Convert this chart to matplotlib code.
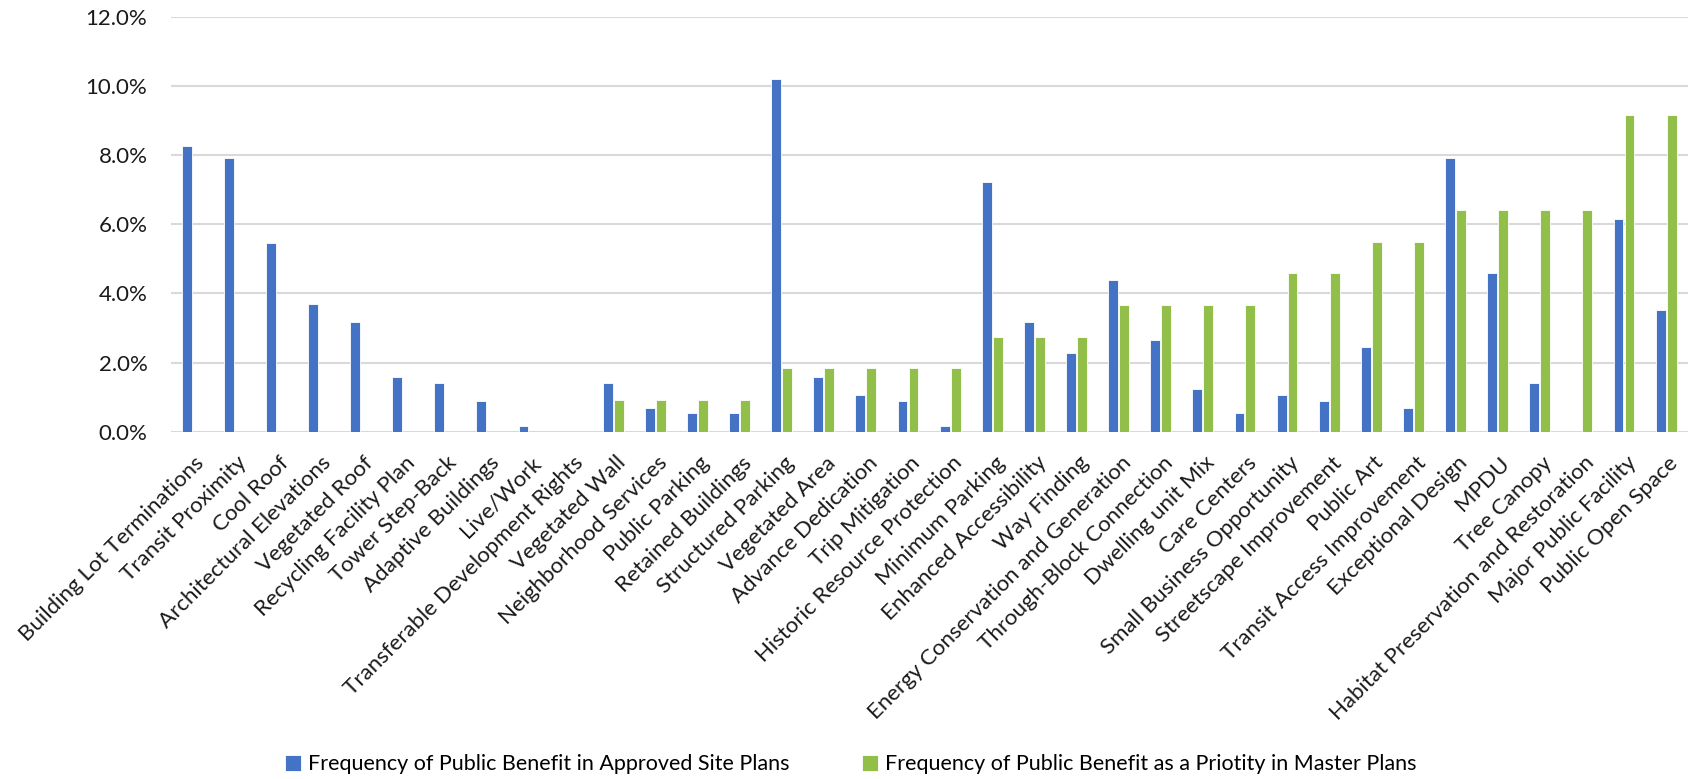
import matplotlib
matplotlib.use("Agg")
import matplotlib.pyplot as plt
import matplotlib.transforms as mtransforms
import numpy as np
from matplotlib.ticker import PercentFormatter

categories = ["Building Lot Terminations", "Transit Proximity", "Cool Roof",
              "Architectural Elevations", "Vegetated Roof", "Recycling Facility Plan",
              "Tower Step-Back", "Adaptive Buildings", "Live/Work",
              "Transferable Development Rights", "Vegetated Wall", "Neighborhood Services",
              "Public Parking", "Retained Buildings", "Structured Parking", "Vegetated Area",
              "Advance Dedication", "Trip Mitigation", "Historic Resource Protection",
              "Minimum Parking", "Enhanced Accessibility", "Way Finding",
              "Energy Conservation and Generation", "Through-Block Connection",
              "Dwelling unit Mix", "Care Centers", "Small Business Opportunity",
              "Streetscape Improvement", "Public Art", "Transit Access Improvement",
              "Exceptional Design", "MPDU", "Tree Canopy",
              "Habitat Preservation and Restoration", "Major Public Facility",
              "Public Open Space"]

site_plans = [8.28, 7.92, 5.46, 3.70, 3.17, 1.58, 1.41, 0.88, 0.18, 0.0,
              1.41, 0.70, 0.53, 0.53, 10.21, 1.58, 1.06, 0.88, 0.18, 7.22,
              3.17, 2.29, 4.40, 2.64, 1.23, 0.53, 1.06, 0.88, 2.46, 0.70,
              7.92, 4.58, 1.41, 0.0, 6.16, 3.52]

master_plans = [0.0, 0.0, 0.0, 0.0, 0.0, 0.0, 0.0, 0.0, 0.0, 0.0,
                0.92, 0.92, 0.92, 0.92, 1.83, 1.83, 1.83, 1.83, 1.83, 2.75,
                2.75, 2.75, 3.67, 3.67, 3.67, 3.67, 4.59, 4.59, 5.50, 5.50,
                6.42, 6.42, 6.42, 6.42, 9.17, 9.17]

series_names = ["Frequency of Public Benefit in Approved Site Plans",
                "Frequency of Public Benefit as a Priotity in Master Plans"]

plt.rcParams['font.family'] = ['Lato', 'DejaVu Sans']

fig = plt.figure(figsize=(16.88, 7.79), dpi=100)
ax = fig.add_axes([0.1013, 0.4458, 0.8987, 0.5324])

x = np.arange(len(categories))
w = 0.235
ax.bar(x - 0.13, site_plans, w, color="#4472C4", edgecolor="white", linewidth=0.6,
       label=series_names[0], zorder=3)
ax.bar(x + 0.13, master_plans, w, color="#92BF4A", edgecolor="white", linewidth=0.6,
       label=series_names[1], zorder=3)

ax.set_ylim(0, 12)
ax.set_yticks(np.arange(0, 12.1, 2))
ax.yaxis.set_major_formatter(PercentFormatter(decimals=1))
ax.set_xlim(-0.5, 35.52)
ax.set_xticks(x)
ax.set_xticklabels([])

# category labels drawn by hand: 45 deg, ending just right of the tick (Excel style)
shift = mtransforms.ScaledTranslation(0.02, -0.21, fig.dpi_scale_trans)
for i, name in enumerate(categories):
    ax.text(i, 0, name, rotation=45, ha="right", va="top", rotation_mode="anchor",
            fontsize=16, color="#1a1a1a",
            transform=ax.get_xaxis_transform() + shift)

ax.grid(axis="y", color="#d9d9d9", linewidth=1.5, zorder=0)
for s in ax.spines.values():
    s.set_visible(False)
ax.tick_params(axis="both", length=0, colors="#1a1a1a")
ax.tick_params(axis="y", pad=17, labelsize=16)

fig.legend(loc="center", bbox_to_anchor=(0.504, 0.019), ncol=2, frameon=False,
           fontsize=15.5, handlelength=0.75, handleheight=0.75, handletextpad=0.3,
           columnspacing=3.4, borderpad=0)

fig.savefig("out.png", dpi=100)
